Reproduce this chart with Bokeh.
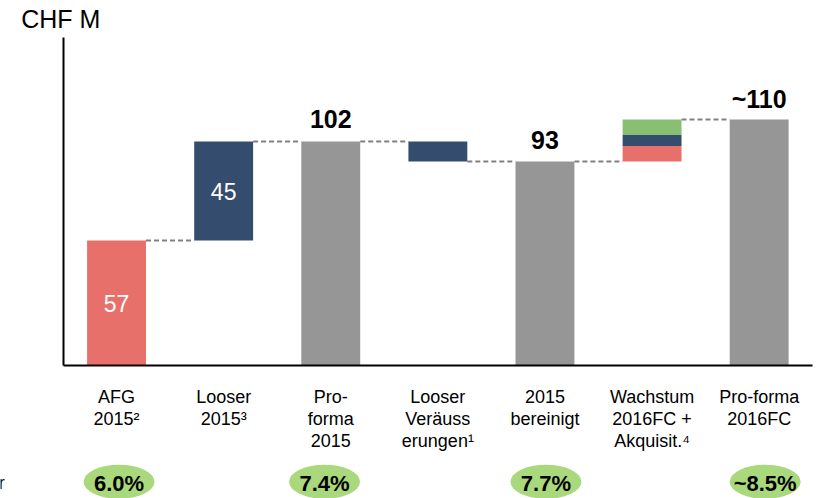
from bokeh.plotting import figure
from bokeh.models import ColumnDataSource, LinearAxis, FixedTicker, Label, Range1d
from bokeh.embed import file_html
from bokeh.resources import INLINE
from bokeh.core.properties import value

# ---- data ----
categories = [
    "AFG\n2015²",
    "Looser\n2015³",
    "Pro-\nforma\n2015",
    "Looser\nVeräuss\nerungen¹",
    "2015\nbereinigt",
    "Wachstum\n2016FC +\nAkquisit.⁴",
    "Pro-forma\n2016FC",
]
afg_2015 = 57
looser_2015 = 45
proforma_2015 = 102
looser_divest = -9
adjusted_2015 = 93
growth_segments = [7, 5, 7]          # red, blue, green (stacked)
proforma_2016 = 112
value_labels = ["57", "45", "102", "", "93", "", "~110"]
margin_labels = ["6.0%", "7.4%", "7.7%", "~8.5%"]
margin_idx = [0, 2, 4, 6]

# layout-only tweaks (horizontal nudges of the margin badges)
badge_shift = [0.023, -0.058, 0.009, 0.056]

RED = "#E8706A"
BLUE = "#344C6E"
GREY = "#969696"
GREEN = "#89BF72"
ELL = "#A9D97C"
FONT = "Liberation Sans"

xs = list(range(len(categories)))
W = 0.55

# bars (bottom/top derived from values)
bar_x = [0, 1, 2, 3, 4, 5, 5, 5, 6]
g0 = adjusted_2015
g1 = g0 + growth_segments[0]
g2 = g1 + growth_segments[1]
g3 = g2 + growth_segments[2]
bar_bottom = [0, afg_2015, 0, proforma_2015 + looser_divest, 0, g0, g1, g2, 0]
bar_top = [afg_2015, afg_2015 + looser_2015, proforma_2015, proforma_2015, adjusted_2015, g1, g2, g3, proforma_2016]
bar_color = [RED, BLUE, GREY, BLUE, GREY, RED, BLUE, GREEN, GREY]
bars = ColumnDataSource(dict(x=bar_x, bottom=bar_bottom, top=bar_top, color=bar_color))

p = figure(width=821, height=498,
           x_range=Range1d(-1.0836, 6.582), y_range=Range1d(-60.23, 166.14),
           output_backend="svg", toolbar_location=None,
           x_axis_location=None, y_axis_location=None, min_border=0)
p.outline_line_color = None
p.grid.visible = False
p.background_fill_color = "white"
p.border_fill_color = "white"

# connectors
levels = [afg_2015, proforma_2015, proforma_2015, adjusted_2015, adjusted_2015, g3]
p.segment(x0=[i + W / 2 for i in range(6)], x1=[i + 1 - W / 2 for i in range(6)],
          y0=levels, y1=levels, line_color="#808080", line_width=2, line_dash="5 3")

p.vbar(x="x", bottom="bottom", top="top", width=W, fill_color="color",
       line_color=None, source=bars)

# axes
xaxis = LinearAxis(fixed_location=0, bounds=(-0.5, 6.5),
                   ticker=FixedTicker(ticks=xs),
                   major_label_overrides={i: c for i, c in zip(xs, categories)},
                   axis_line_width=2, axis_line_color="black",
                   major_tick_line_color=None, minor_tick_line_color=None,
                   major_label_text_font=FONT, major_label_text_font_size="18px",
                   major_label_text_color="black", major_label_standoff=15,
                   major_label_text_line_height=1.1)
p.add_layout(xaxis, "below")
yaxis = LinearAxis(fixed_location=-0.5, bounds=(0, 149.3),
                   ticker=FixedTicker(ticks=[]),
                   axis_line_width=2, axis_line_color="black",
                   major_tick_line_color=None, minor_tick_line_color=None,
                   major_label_text_font_size="0px")
p.add_layout(yaxis, "left")

# in-bar labels
p.text(x=[0, 1], y=[afg_2015 / 2, afg_2015 + looser_2015 / 2], text=[value_labels[0], value_labels[1]],
       text_font=value(FONT), text_font_size="23px", text_color="white",
       text_align="center", text_baseline="middle")
# totals above bars
p.text(x=[2, 4, 6], y=[proforma_2015 + 10.2, adjusted_2015 + 9.6, proforma_2016 + 9.4],
       text=[value_labels[2], value_labels[4], value_labels[6]],
       text_font=value(FONT), text_font_size="25px", text_font_style="bold",
       text_color="black", text_align="center", text_baseline="middle")

# margin ellipses
badge_x = [i + d for i, d in zip(margin_idx, badge_shift)]
p.ellipse(x=badge_x, y=[-52.6] * 4, width=0.663, height=15.5,
          fill_color=ELL, line_color=None)
p.text(x=badge_x, y=[-53.2] * 4, text=margin_labels,
       text_font=value(FONT), text_font_size="22px", text_font_style="bold",
       text_color="black", text_align="center", text_baseline="middle")

p.add_layout(Label(x=-0.89, y=157.8, text="CHF M", text_font=FONT,
                   text_font_size="25px", text_color="black", text_baseline="middle"))
p.add_layout(Label(x=-1.10, y=-53.4, text="r", text_font=FONT,
                   text_font_size="18px", text_color="black", text_baseline="middle"))

open("out.html", "w").write(file_html(p, INLINE))
